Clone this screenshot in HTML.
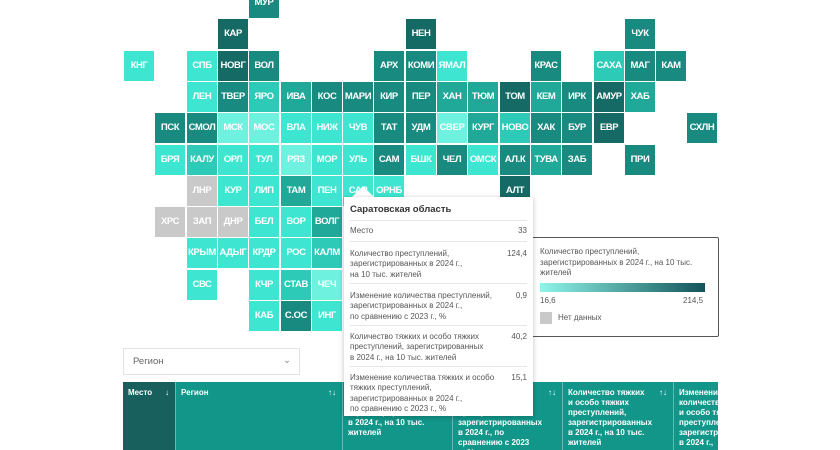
<!DOCTYPE html>
<html><head><meta charset="utf-8"><style>
body{margin:0;width:840px;height:450px;overflow:hidden;background:#fff;font-family:"Liberation Sans",sans-serif;position:relative}
.t{position:absolute;width:30px;height:30px;color:#fff;font-size:9.5px;font-weight:bold;line-height:30px;text-align:center;letter-spacing:-0.4px;white-space:nowrap;overflow:hidden}
.a{background:#6ef2df}.b{background:#3ee6d1}.c{background:#2ccab7}.d{background:#20a898}.e{background:#198a80}.f{background:#156a66}.g{background:#c9c9c9}
.tip{position:absolute;left:344px;top:197px;width:189px;height:219px;background:#fff;box-shadow:0 1px 5px rgba(0,0,0,.25);font-size:8px;color:#555;line-height:10.3px}
.tip .r{position:absolute;left:6px;right:6px;border-top:1px solid #e6e6e6}
.tip .v{position:absolute;right:0;top:0}
.th{position:absolute;top:382px;height:68px;background:#12968a;color:#fff;font-size:8px;font-weight:bold;line-height:10px;box-sizing:border-box;padding:6px 5px;border-right:1px solid #5fbcb2;overflow:hidden}
.th .s{position:absolute;right:6px;top:6px;font-weight:normal}
</style></head><body>
<div class="t e" style="left:249px;top:-12px">МУР</div>
<div class="t f" style="left:218px;top:19px">КАР</div>
<div class="t f" style="left:406px;top:19px">НЕН</div>
<div class="t e" style="left:625px;top:19px">ЧУК</div>
<div class="t b" style="left:124px;top:51px">КНГ</div>
<div class="t b" style="left:187px;top:51px">СПБ</div>
<div class="t f" style="left:218px;top:51px">НОВГ</div>
<div class="t e" style="left:249px;top:51px">ВОЛ</div>
<div class="t e" style="left:374px;top:51px">АРХ</div>
<div class="t e" style="left:406px;top:51px">КОМИ</div>
<div class="t b" style="left:437px;top:51px">ЯМАЛ</div>
<div class="t e" style="left:531px;top:51px">КРАС</div>
<div class="t c" style="left:594px;top:51px">САХА</div>
<div class="t e" style="left:625px;top:51px">МАГ</div>
<div class="t e" style="left:656px;top:51px">КАМ</div>
<div class="t b" style="left:187px;top:82px">ЛЕН</div>
<div class="t e" style="left:218px;top:82px">ТВЕР</div>
<div class="t c" style="left:249px;top:82px">ЯРО</div>
<div class="t d" style="left:281px;top:82px">ИВА</div>
<div class="t e" style="left:312px;top:82px">КОС</div>
<div class="t e" style="left:343px;top:82px">МАРИ</div>
<div class="t e" style="left:374px;top:82px">КИР</div>
<div class="t e" style="left:406px;top:82px">ПЕР</div>
<div class="t d" style="left:437px;top:82px">ХАН</div>
<div class="t d" style="left:468px;top:82px">ТЮМ</div>
<div class="t f" style="left:500px;top:82px">ТОМ</div>
<div class="t d" style="left:531px;top:82px">КЕМ</div>
<div class="t e" style="left:562px;top:82px">ИРК</div>
<div class="t f" style="left:594px;top:82px">АМУР</div>
<div class="t d" style="left:625px;top:82px">ХАБ</div>
<div class="t e" style="left:155px;top:113px">ПСК</div>
<div class="t e" style="left:187px;top:113px">СМОЛ</div>
<div class="t a" style="left:218px;top:113px">МСК</div>
<div class="t a" style="left:249px;top:113px">МОС</div>
<div class="t b" style="left:281px;top:113px">ВЛА</div>
<div class="t b" style="left:312px;top:113px">НИЖ</div>
<div class="t b" style="left:343px;top:113px">ЧУВ</div>
<div class="t e" style="left:374px;top:113px">ТАТ</div>
<div class="t e" style="left:406px;top:113px">УДМ</div>
<div class="t a" style="left:437px;top:113px">СВЕР</div>
<div class="t d" style="left:468px;top:113px">КУРГ</div>
<div class="t c" style="left:500px;top:113px">НОВО</div>
<div class="t e" style="left:531px;top:113px">ХАК</div>
<div class="t e" style="left:562px;top:113px">БУР</div>
<div class="t f" style="left:594px;top:113px">ЕВР</div>
<div class="t e" style="left:687px;top:113px">СХЛН</div>
<div class="t b" style="left:155px;top:145px">БРЯ</div>
<div class="t c" style="left:187px;top:145px">КАЛУ</div>
<div class="t b" style="left:218px;top:145px">ОРЛ</div>
<div class="t b" style="left:249px;top:145px">ТУЛ</div>
<div class="t a" style="left:281px;top:145px">РЯЗ</div>
<div class="t b" style="left:312px;top:145px">МОР</div>
<div class="t b" style="left:343px;top:145px">УЛЬ</div>
<div class="t e" style="left:374px;top:145px">САМ</div>
<div class="t b" style="left:406px;top:145px">БШК</div>
<div class="t e" style="left:437px;top:145px">ЧЕЛ</div>
<div class="t b" style="left:468px;top:145px">ОМСК</div>
<div class="t e" style="left:500px;top:145px">АЛ.К</div>
<div class="t d" style="left:531px;top:145px">ТУВА</div>
<div class="t e" style="left:562px;top:145px">ЗАБ</div>
<div class="t e" style="left:625px;top:145px">ПРИ</div>
<div class="t g" style="left:187px;top:176px">ЛНР</div>
<div class="t b" style="left:218px;top:176px">КУР</div>
<div class="t b" style="left:249px;top:176px">ЛИП</div>
<div class="t d" style="left:281px;top:176px">ТАМ</div>
<div class="t b" style="left:312px;top:176px">ПЕН</div>
<div class="t b" style="left:343px;top:176px">САР</div>
<div class="t b" style="left:374px;top:176px">ОРНБ</div>
<div class="t f" style="left:500px;top:176px">АЛТ</div>
<div class="t g" style="left:155px;top:207px">ХРС</div>
<div class="t g" style="left:187px;top:207px">ЗАП</div>
<div class="t g" style="left:218px;top:207px">ДНР</div>
<div class="t b" style="left:249px;top:207px">БЕЛ</div>
<div class="t b" style="left:281px;top:207px">ВОР</div>
<div class="t d" style="left:312px;top:207px">ВОЛГ</div>
<div class="t b" style="left:187px;top:238px">КРЫМ</div>
<div class="t b" style="left:218px;top:238px">АДЫГ</div>
<div class="t b" style="left:249px;top:238px">КРДР</div>
<div class="t b" style="left:281px;top:238px">РОС</div>
<div class="t c" style="left:312px;top:238px">КАЛМ</div>
<div class="t b" style="left:187px;top:270px">СВС</div>
<div class="t b" style="left:249px;top:270px">КЧР</div>
<div class="t c" style="left:281px;top:270px">СТАВ</div>
<div class="t a" style="left:312px;top:270px">ЧЕЧ</div>
<div class="t b" style="left:249px;top:301px">КАБ</div>
<div class="t e" style="left:281px;top:301px">С.ОС</div>
<div class="t b" style="left:312px;top:301px">ИНГ</div>

<div style="position:absolute;left:520px;top:237px;width:197px;height:98px;border:1px solid #555;border-radius:2px;background:#fff"></div>
<div style="position:absolute;left:540px;top:247px;width:175px;font-size:8px;line-height:10.5px;color:#555">Количество преступлений, зарегистрированных в 2024 г., на 10 тыс. жителей</div>
<div style="position:absolute;left:540px;top:283px;width:165px;height:9px;background:linear-gradient(90deg,#8ff5ea,#13545a)"></div>
<div style="position:absolute;left:540px;top:296px;font-size:8px;color:#555">16,6</div>
<div style="position:absolute;left:683px;top:296px;font-size:8px;color:#555">214,5</div>
<div style="position:absolute;left:540px;top:312px;width:12px;height:12px;background:#c9c9c9"></div>
<div style="position:absolute;left:558px;top:313px;font-size:8px;color:#555">Нет данных</div>

<div style="position:absolute;left:123px;top:348px;width:177px;height:27px;border:1px solid #e2e2e2;box-sizing:border-box;font-size:9.5px;color:#666;line-height:25px;padding-left:9px">Регион<span style="position:absolute;right:8px;top:-1px;color:#888">&#8964;</span></div>

<div class="th" style="left:123px;width:53px;background:#17605d">Место<span class="s">↓</span></div>
<div class="th" style="left:176px;width:167px">Регион<span class="s">↑↓</span></div>
<div class="th" style="left:343px;width:110px;padding-right:18px">Количество преступлений, зарегистрированных в 2024 г., на 10 тыс. жителей<span class="s">↑↓</span></div>
<div class="th" style="left:453px;width:110px;padding-right:28px">Изменение количества преступлений, зарегистрированных в 2024 г., по сравнению с 2023 г., %<span class="s">↑↓</span></div>
<div class="th" style="left:563px;width:111px;padding-right:22px">Количество тяжких и особо тяжких преступлений, зарегистрированных в 2024 г., на 10 тыс. жителей<span class="s">↑↓</span></div>
<div class="th" style="left:674px;width:44px;white-space:nowrap;border-right:none">Изменение<br>количества<br>и особо тяжких<br>преступлений,<br>зарегистрированных<br>в 2024 г.,<br>по сравнению</div>

<div style="position:absolute;left:352px;top:186px;width:0;height:0;border-left:11px solid transparent;border-right:11px solid transparent;border-bottom:11px solid #fff"></div>
<div class="tip">
<div style="position:absolute;left:6px;top:8px;font-size:9.5px;font-weight:bold;color:#333">Саратовская область</div>
<div class="r" style="top:23px"></div>
<div style="position:absolute;left:6px;right:6px;top:29px">Место<span class="v">33</span></div>
<div class="r" style="top:44px"></div>
<div style="position:absolute;left:6px;right:6px;top:52px">Количество преступлений,<br>зарегистрированных в 2024 г.,<br>на 10 тыс. жителей<span class="v">124,4</span></div>
<div class="r" style="top:86px"></div>
<div style="position:absolute;left:6px;right:6px;top:94px">Изменение количества преступлений,<br>зарегистрированных в 2024 г.,<br>по сравнению с 2023 г., %<span class="v">0,9</span></div>
<div class="r" style="top:128px"></div>
<div style="position:absolute;left:6px;right:6px;top:135px">Количество тяжких и особо тяжких<br>преступлений, зарегистрированных<br>в 2024 г., на 10 тыс. жителей<span class="v">40,2</span></div>
<div class="r" style="top:169px"></div>
<div style="position:absolute;left:6px;right:6px;top:176px">Изменение количества тяжких и особо<br>тяжких преступлений,<br>зарегистрированных в 2024 г.,<br>по сравнению с 2023 г., %<span class="v">15,1</span></div>
</div>
</body></html>
